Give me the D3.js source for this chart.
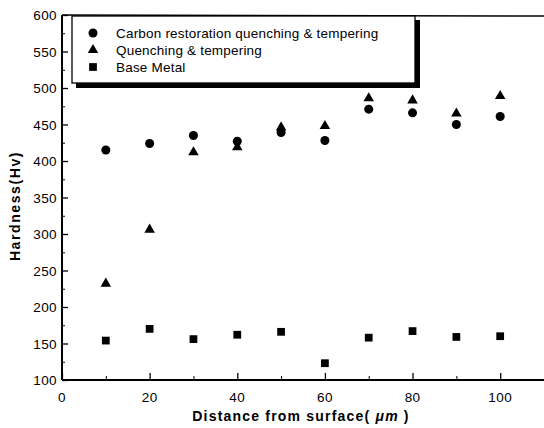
<!DOCTYPE html>
<html>
<head>
<meta charset="utf-8">
<script src="https://cdn.jsdelivr.net/npm/d3@7"></script>
<style>
  body { margin: 0; background: #fff; }
  text { font-family: "Liberation Sans", Arial, sans-serif; fill: #000; }
</style>
</head>
<body>
<svg id="chart" width="544" height="428"></svg>
<script>
// distances from the surface (um)
var distance = [10, 20, 30, 40, 50, 60, 70, 80, 90, 100];
// hardness values
var carbonRestoration = [415, 424, 435, 427, 439, 428, 471, 466, 450, 461];
var quenchTemper = [232, 306, 412, 419, 446, 448, 486, 483, 465, 489];
var baseMetal = [154, 170, 156, 162, 166, 123, 158, 167, 159, 160];

var seriesNames = ["Carbon restoration quenching & tempering", "Quenching & tempering", "Base Metal"];
var seriesShapes = [d3.symbolCircle, d3.symbolTriangle, d3.symbolSquare];
var xTicks = [0, 20, 40, 60, 80, 100];
var yTicks = [100, 150, 200, 250, 300, 350, 400, 450, 500, 550, 600];

var svg = d3.select("#chart");

var xScale = d3.scaleLinear().domain([0, 110]).range([62, 544]);
var yScale = d3.scaleLinear().domain([100, 600]).range([380, 15]);

var g = svg.append("g");

// frame lines (left, bottom, top)
g.append("line").attr("x1", 62).attr("x2", 62).attr("y1", 15).attr("y2", 380)
  .attr("stroke", "#000").attr("stroke-width", 2);
g.append("line").attr("x1", 62).attr("x2", 544).attr("y1", 380).attr("y2", 380)
  .attr("stroke", "#000").attr("stroke-width", 2);
g.append("line").attr("x1", 62).attr("x2", 544).attr("y1", 15).attr("y2", 16)
  .attr("stroke", "#000").attr("stroke-width", 1.5);

// y axis, ticks pointing inside
var yAxis = d3.axisRight(yScale).tickValues(yTicks).tickSize(6).tickFormat("");
var ya = g.append("g").attr("transform", "translate(62,0)").call(yAxis);
ya.select(".domain").remove();
ya.selectAll("line").attr("stroke-width", 1.3);
var yMinor = d3.axisRight(yScale).tickValues(d3.range(125, 600, 50)).tickSize(3).tickFormat("");
var ym = g.append("g").attr("transform", "translate(62,0)").call(yMinor);
ym.select(".domain").remove();

g.selectAll(".ylab").data(yTicks).enter().append("text")
  .attr("class", "ylab")
  .attr("x", 57)
  .attr("y", (d) => yScale(d) + 5)
  .attr("text-anchor", "end")
  .style("font-size", "13.5px")
  .style("letter-spacing", "0.4px")
  .text((d) => d);

// x axis, ticks pointing up
var xAxis = d3.axisTop(xScale).tickValues(xTicks).tickSize(7).tickFormat("");
var xa = g.append("g").attr("transform", "translate(0,380)").call(xAxis);
xa.select(".domain").remove();
xa.selectAll("line").attr("stroke-width", 1.3);
var xMinor = d3.axisTop(xScale).tickValues([10, 30, 50, 70, 90]).tickSize(4).tickFormat("");
var xm = g.append("g").attr("transform", "translate(0,380)").call(xMinor);
xm.select(".domain").remove();

g.selectAll(".xlab").data(xTicks).enter().append("text")
  .attr("class", "xlab")
  .attr("x", (d) => xScale(d))
  .attr("y", 402)
  .attr("text-anchor", "middle")
  .style("font-size", "13.5px")
  .style("letter-spacing", "0.4px")
  .text((d) => d);

// axis titles
g.append("text")
  .attr("transform", "translate(20,206) rotate(-90)")
  .attr("text-anchor", "middle")
  .style("font-size", "14px")
  .style("font-weight", "bold")
  .style("letter-spacing", "1.6px")
  .text("Hardness(Hv)");

var xt = g.append("text")
  .attr("x", 301)
  .attr("y", 421)
  .attr("text-anchor", "middle")
  .style("font-size", "14px")
  .style("font-weight", "bold")
  .style("letter-spacing", "1.2px");
xt.append("tspan").text("Distance from surface( ");
xt.append("tspan").style("font-style", "italic").text("\u03bcm");
xt.append("tspan").text(" )");

// data points
var allSeries = [carbonRestoration, quenchTemper, baseMetal];
var sizes = [64, 48, 60];
allSeries.forEach(function (values, i) {
  g.selectAll(".pt" + i)
    .data(values)
    .enter()
    .append("path")
    .attr("class", "pt" + i)
    .attr("d", d3.symbol().type(seriesShapes[i]).size(sizes[i]))
    .attr("transform", (d, j) => "translate(" + xScale(distance[j]) + "," + yScale(d) + ")")
    .attr("fill", "#000");
});

// legend with drop shadow
var lg = g.append("g");
lg.append("rect").attr("x", 76).attr("y", 20).attr("width", 344).attr("height", 68).attr("fill", "#000");
lg.append("rect").attr("x", 72).attr("y", 16).attr("width", 343).attr("height", 67)
  .attr("fill", "#fff").attr("stroke", "#000").attr("stroke-width", 1.3);

seriesNames.forEach(function (name, i) {
  var yy = 33 + i * 17;
  lg.append("path")
    .attr("d", d3.symbol().type(seriesShapes[i]).size(sizes[i]))
    .attr("transform", "translate(93," + yy + ")")
    .attr("fill", "#000");
  lg.append("text")
    .attr("x", 116)
    .attr("y", yy + 5)
    .style("font-size", "13.5px")
    .style("letter-spacing", "0.2px")
    .text(name);
});
</script>
</body>
</html>
